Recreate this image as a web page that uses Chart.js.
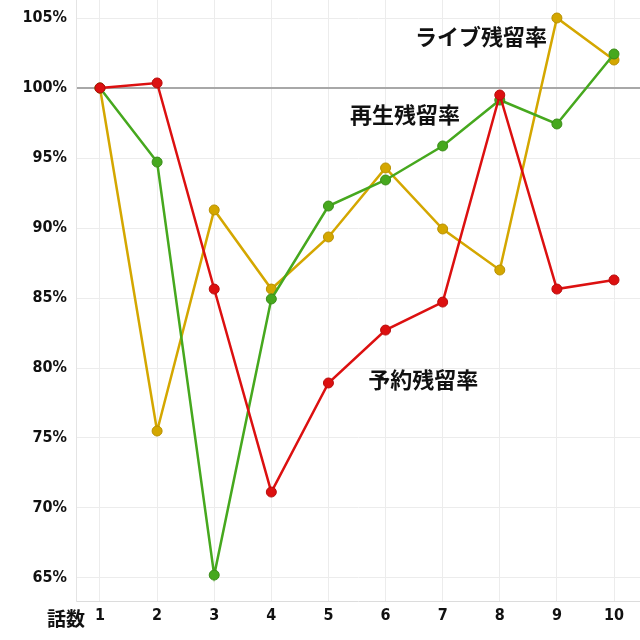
<!DOCTYPE html>
<html>
<head>
<meta charset="utf-8">
<script src="https://cdn.jsdelivr.net/npm/chart.js@4"></script>
<style>
  html, body { margin: 0; padding: 0; background: #fff; }
</style>
</head>
<body>
<canvas id="grafica" width="640" height="640"></canvas>
<script>
const episodios = [1, 2, 3, 4, 5, 6, 7, 8, 9, 10];
const yoyaku = [100, 100.36, 85.64, 71.14, 78.93, 82.71, 84.71, 99.5, 85.64, 86.29];
const saisei = [100, 94.71, 65.21, 84.93, 91.57, 93.43, 95.86, 99.14, 97.43, 102.43];
const live = [100, 75.5, 91.29, 85.64, 89.36, 94.29, 89.93, 87.0, 105.0, 102.0];
const yTicks = [65, 70, 75, 80, 85, 90, 95, 100, 105];

const etiquetas = [
    { text: "ライブ残留率", x: 7.67, y: 103.64 },
    { text: "再生残留率", x: 6.34, y: 98.07 },
    { text: "予約残留率", x: 6.66, y: 79.14 }
];

const puntos = (arr) => arr.map((v, i) => ({ x: episodios[i], y: v }));

const serie = (label, data, color, borde) => ({
    label: label,
    data: puntos(data),
    borderColor: color,
    backgroundColor: color,
    pointBorderColor: borde,
    pointBorderWidth: 1,
    pointRadius: 5,
    pointHoverRadius: 5,
    borderWidth: 2.5,
    tension: 0,
    clip: false
});

const textos = {
    id: "textos",
    afterDatasetsDraw(chart) {
        const ctx = chart.ctx;
        const sx = chart.scales.x, sy = chart.scales.y;
        ctx.save();
        ctx.fillStyle = "#111";
        ctx.textAlign = "center";
        ctx.textBaseline = "middle";
        ctx.font = "bold 22px 'Noto Sans CJK JP'";
        etiquetas.forEach(e => {
            ctx.fillText(e.text, sx.getPixelForValue(e.x), sy.getPixelForValue(e.y));
        });
        ctx.font = "bold 19px 'Noto Sans CJK JP'";
        ctx.fillText("話数", 66, 619);
        ctx.restore();
    }
};

const fuenteTicks = { family: "DejaVu Sans Condensed", size: 16, weight: "bold" };

new Chart(document.getElementById("grafica"), {
    type: "line",
    data: {
        datasets: [
            serie("予約残留率", yoyaku, "#dc1010", "#b80c0c"),
            serie("再生残留率", saisei, "#46a81e", "#3a8c18"),
            serie("ライブ残留率", live, "#d4a700", "#b89000")
        ]
    },
    options: {
        responsive: false,
        animation: false,
        layout: { padding: 0, autoPadding: false },
        plugins: { legend: { display: false }, tooltip: { enabled: false } },
        scales: {
            x: {
                type: "linear",
                min: 0.58,
                max: 10.455,
                afterBuildTicks: (s) => { s.ticks = episodios.map(v => ({ value: v })); },
                afterFit: (s) => {
                    s.height = 39;
                    s.paddingLeft = 0;
                    s.paddingRight = 0;
                },
                grid: { color: "#ececec", drawTicks: false },
                border: { color: "#dcdcdc" },
                ticks: { padding: 5, color: "#111", font: fuenteTicks }
            },
            y: {
                min: 63.357,
                max: 106.286,
                afterBuildTicks: (s) => { s.ticks = yTicks.map(v => ({ value: v })); },
                afterFit: (s) => {
                    s.width = 76;
                    s.paddingTop = 0;
                    s.paddingBottom = 0;
                },
                grid: {
                    drawTicks: false,
                    color: (c) => c.tick && c.tick.value === 100 ? "#a8a8a8" : "#ececec",
                    lineWidth: (c) => c.tick && c.tick.value === 100 ? 2 : 1
                },
                border: { color: "#e4e4e4" },
                ticks: {
                    padding: 9,
                    color: "#111",
                    font: fuenteTicks,
                    callback: (v) => v + "%"
                }
            }
        }
    },
    plugins: [textos]
});
</script>
</body>
</html>
